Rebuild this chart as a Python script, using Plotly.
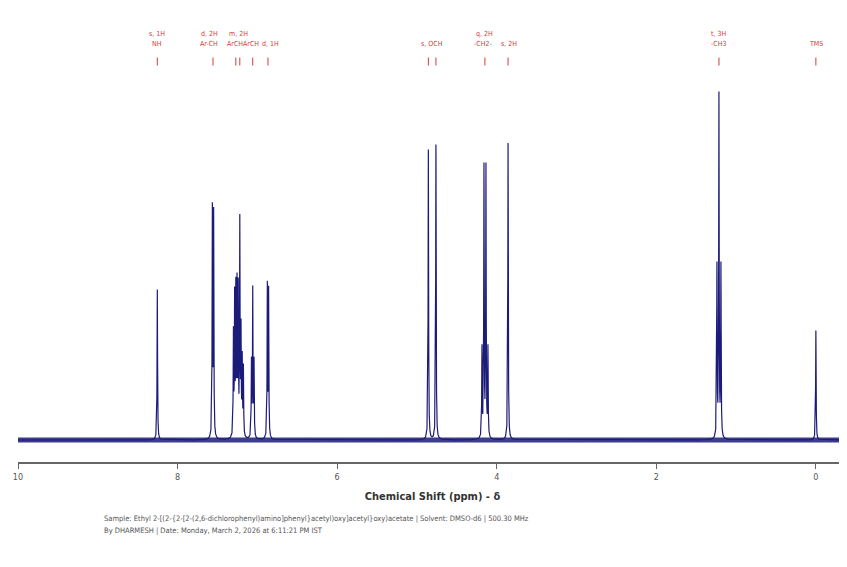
import numpy as np
import plotly.graph_objects as go

# ---- data ----
peak_ppm = [8.254,
            7.564, 7.548,
            7.300, 7.285, 7.270, 7.255, 7.240, 7.220, 7.205, 7.190, 7.175,
            7.074, 7.058, 7.042,
            6.875, 6.859,
            4.857, 4.762,
            4.185, 4.160, 4.135, 4.110,
            3.858,
            1.240, 1.215, 1.190,
            0.000]
peak_height = [0.44,
               0.665, 0.65,
               0.30, 0.40, 0.42, 0.43, 0.42, 0.62, 0.30, 0.22, 0.20,
               0.22, 0.43, 0.22,
               0.445, 0.43,
               0.848, 0.863,
               0.26, 0.79, 0.79, 0.26,
               0.868,
               0.50, 1.00, 0.50,
               0.32]
line_hwhm = 0.0035
noise_level = 0.007

tick_ppm = [8.254, 7.556, 7.27, 7.22, 7.058, 6.867, 4.857, 4.762, 4.148, 3.858, 1.215, 0.0]

row1_ppm = [8.254, 7.60, 7.24, 4.148, 1.215]
row1_text = ["s, 1H", "d, 2H", "m, 2H", "q, 2H", "t, 3H"]
row2_ppm = [8.254, 7.60, 7.28, 7.08, 6.84, 4.81, 4.17, 3.85, 1.215, 0.0]
row2_text = ["NH", "Ar-CH", "ArCH", "ArCH", "d, 1H", "s, OCH", "-CH2-", "s, 2H", "-CH3", "TMS"]

x_ticks = [10, 8, 6, 4, 2, 0]
x_range = [10, -0.39]

caption1 = ("Sample: Ethyl 2-[(2-{2-[2-(2,6-dichlorophenyl)amino]phenyl}acetyl)oxy]acetyl}oxy)acetate"
            " | Solvent: DMSO-d6 | 500.30 MHz")
caption2 = "By DHARMESH | Date: Monday, March 2, 2026 at 6:11:21 PM IST"

# ---- build spectrum from peak list (Lorentzian lines) ----
grid = np.arange(x_range[1], x_range[0] + 1e-9, 0.0008)
x = np.unique(np.concatenate([grid, np.array(peak_ppm)]))
y = np.zeros_like(x)
for p, h in zip(peak_ppm, peak_height):
    y += h * line_hwhm**2 / (line_hwhm**2 + (x - p) ** 2)

navy = "#1b1b7a"
red = "#d43a3a"
FONT = "DejaVu Sans Condensed, Liberation Sans, sans-serif"

fig = go.Figure()
fig.add_trace(go.Scatter(x=x_range, y=[-noise_level, -noise_level], mode="lines",
                         line=dict(color=navy, width=0), hoverinfo="skip", showlegend=False))
fig.add_trace(go.Scatter(x=x_range, y=[noise_level, noise_level], mode="lines",
                         line=dict(color=navy, width=0), fill="tonexty",
                         fillcolor="rgba(27,27,122,0.85)", hoverinfo="skip", showlegend=False))
fig.add_trace(go.Scatter(x=x, y=y, mode="lines", line=dict(color=navy, width=1.2),
                         showlegend=False))

shapes = []
for p in tick_ppm:
    shapes.append(dict(type="line", xref="x", yref="paper", x0=p, x1=p, y0=0.897, y1=0.915,
                       line=dict(color=red, width=1)))

annotations = []
lab_font = dict(family=FONT, size=7, color=red)
for p, t in zip(row1_ppm, row1_text):
    annotations.append(dict(x=p, y=0.968, xref="x", yref="paper", text=t, showarrow=False,
                            font=lab_font, xanchor="center", yanchor="middle"))
for p, t in zip(row2_ppm, row2_text):
    annotations.append(dict(x=p, y=0.945, xref="x", yref="paper", text=t, showarrow=False,
                            font=lab_font, xanchor="center", yanchor="middle"))

# page has an 8px body margin; size the figure so the plot lands where the reference has it
OFF = 8
W, H = 847 - OFF, 567 - 2 * OFF
L, R, T, B = 18 - OFF, 0, 20 - OFF, 105 - OFF
pw, ph = W - L - R, H - T - B

def px_to_paper(px, py):
    return (px - OFF - L) / pw, (H + OFF - B - py) / ph

cap_font = dict(family=FONT, size=7.5, color="#555555")
cx, cy = px_to_paper(102, 518)
annotations.append(dict(x=cx, y=cy, xref="paper", yref="paper", text=caption1,
                        showarrow=False, font=cap_font, xanchor="left", yanchor="middle"))
cx, cy = px_to_paper(102, 530)
annotations.append(dict(x=cx, y=cy, xref="paper", yref="paper", text=caption2,
                        showarrow=False, font=cap_font, xanchor="left", yanchor="middle"))

fig.update_layout(
    width=W, height=H,
    margin=dict(l=L, r=R, t=T, b=B),
    paper_bgcolor="white", plot_bgcolor="white",
    shapes=shapes, annotations=annotations,
    xaxis=dict(range=x_range, tickvals=x_ticks, ticktext=[str(v) for v in x_ticks],
               showgrid=False, zeroline=False, showline=True, linecolor="#666666",
               linewidth=1.5, ticks="outside", ticklen=5, tickcolor="#666666",
               tickfont=dict(family=FONT, size=9, color="#555555"),
               title=dict(text="<b>Chemical Shift (ppm) - δ</b>",
                          font=dict(family=FONT, size=11, color="#333333"),
                          standoff=12)),
    yaxis=dict(range=[-0.0643, 1.228], visible=False),
)

fig.write_html("out.html")
